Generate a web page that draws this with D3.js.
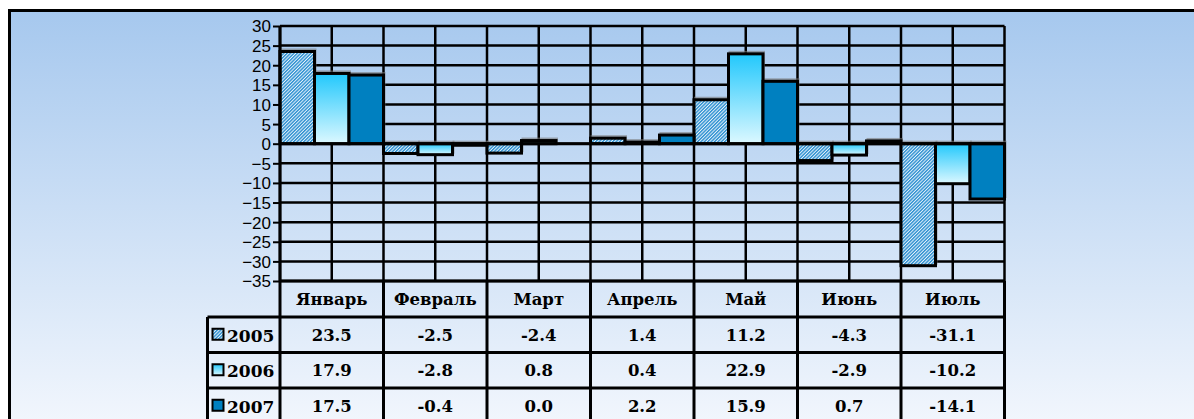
<!DOCTYPE html>
<html>
<head>
<meta charset="utf-8">
<script src="https://cdn.jsdelivr.net/npm/d3@7"></script>
<style>
  body { margin: 0; background: #fff; }
  svg { display: block; }
</style>
</head>
<body>
<svg width="1194" height="419"></svg>
<script>
// data
const months = ["Январь", "Февраль", "Март", "Апрель", "Май", "Июнь", "Июль"];
const years = ["2005", "2006", "2007"];
const v2005 = [23.5, -2.5, -2.4, 1.4, 11.2, -4.3, -31.1];
const v2006 = [17.9, -2.8, 0.8, 0.4, 22.9, -2.9, -10.2];
const v2007 = [17.5, -0.4, 0.0, 2.2, 15.9, 0.7, -14.1];
const yTicks = [30, 25, 20, 15, 10, 5, 0, -5, -10, -15, -20, -25, -30, -35];

const series = [v2005, v2006, v2007];

const svg = d3.select("svg");
const defs = svg.append("defs");

// background gradient
let bg = defs.append("linearGradient").attr("id", "bg")
  .attr("x1", 0).attr("y1", 0).attr("x2", 0).attr("y2", 1);
bg.append("stop").attr("offset", "0%").attr("stop-color", "#a6c8ee");
bg.append("stop").attr("offset", "100%").attr("stop-color", "#f3f7fd");

// 2006 gradient
let g6 = defs.append("linearGradient").attr("id", "g2006")
  .attr("x1", 0).attr("y1", 0).attr("x2", 0).attr("y2", 1);
g6.append("stop").attr("offset", "0%").attr("stop-color", "#22c8fc");
g6.append("stop").attr("offset", "100%").attr("stop-color", "#dcf8ff");

// 2005 hatch (fine)
let hatch = defs.append("pattern").attr("id", "hatch")
  .attr("width", 2.4).attr("height", 2.4)
  .attr("patternUnits", "userSpaceOnUse")
  .attr("patternTransform", "rotate(45)");
hatch.append("rect").attr("width", 2.4).attr("height", 2.4).attr("fill", "#e6f2fb");
hatch.append("rect").attr("width", 1.4).attr("height", 2.4).attr("fill", "#2b8fd0");

const fills = ["url(#hatch)", "url(#g2006)", "#0080c0"];

// frame
svg.append("rect").attr("x", 9.5).attr("y", 10.5)
  .attr("width", 1200).attr("height", 420)
  .attr("fill", "url(#bg)").attr("stroke", "#000").attr("stroke-width", 3);

const pLeft = 280, pRight = 1004.5, pTop = 26, pBottom = 281;

const x = d3.scaleBand().domain(months).range([pLeft, pRight]).padding(0);
const xs = d3.scaleBand().domain(years).range([0, x.bandwidth()]).padding(0);
const y = d3.scaleLinear().domain([-35, 30]).range([pBottom, pTop]);

const grid = svg.append("g");

// horizontal grid
grid.selectAll("line.h").data(yTicks).enter().append("line")
  .attr("x1", pLeft).attr("x2", pRight)
  .attr("y1", d => y(d)).attr("y2", d => y(d))
  .attr("stroke", "#000").attr("stroke-width", 2.5);

// vertical grid: category boundaries and midpoints
const vlines = [];
months.forEach(m => { vlines.push(x(m)); vlines.push(x(m) + x.bandwidth() / 2); });
vlines.push(pRight);
grid.selectAll("line.v").data(vlines).enter().append("line")
  .attr("x1", d => d).attr("x2", d => d)
  .attr("y1", pTop).attr("y2", pBottom)
  .attr("stroke", "#000").attr("stroke-width", 2.5);

// bars
const bars = svg.append("g");
const barData = [];
series.forEach((s, si) => s.forEach((v, mi) => barData.push({ m: months[mi], yr: years[si], si, v })));

bars.selectAll("rect.shadow").data(barData).enter().append("rect")
  .attr("x", d => x(d.m) + xs(d.yr) + 1)
  .attr("y", d => Math.min(y(d.v), y(0)) - 2)
  .attr("width", xs.bandwidth())
  .attr("height", d => Math.abs(y(d.v) - y(0)))
  .attr("fill", "none").attr("stroke", "#777").attr("stroke-width", 2).attr("opacity", 0.6);

bars.selectAll("rect.bar").data(barData).enter().append("rect")
  .attr("x", d => x(d.m) + xs(d.yr))
  .attr("y", d => Math.min(y(d.v), y(0)))
  .attr("width", xs.bandwidth())
  .attr("height", d => Math.abs(y(d.v) - y(0)))
  .attr("fill", d => fills[d.si])
  .attr("stroke", "#000").attr("stroke-width", 3);

// zero line on top
svg.append("line").attr("x1", pLeft).attr("x2", pRight)
  .attr("y1", y(0)).attr("y2", y(0)).attr("stroke", "#000").attr("stroke-width", 3);

// y axis
const yAxis = d3.axisLeft(y).tickValues(yTicks).tickSize(7).tickPadding(2);
const ya = svg.append("g").attr("transform", `translate(${pLeft},0)`).call(yAxis);
ya.select(".domain").attr("stroke", "#000").attr("stroke-width", 3).attr("d", `M0,${pTop}V${pBottom}`);
ya.selectAll(".tick line").attr("stroke", "#000").attr("stroke-width", 2);
ya.selectAll(".tick text").attr("font-family", "Liberation Sans, Arial, sans-serif")
  .attr("font-size", 17).attr("fill", "#000").attr("dy", "0.35em");

// data table
const legLeft = 207.5;
const rowH = 35.5;
const headTop = pBottom, headBot = 317;
const rowY = years.map((_, i) => headBot + i * rowH);
const tbl = svg.append("g");
const serif = "DejaVu Serif, Liberation Serif, serif";
const fs = 16.5;

// horizontal lines
tbl.append("line").attr("x1", pLeft).attr("x2", pRight).attr("y1", headTop).attr("y2", headTop)
  .attr("stroke", "#000").attr("stroke-width", 3);
tbl.selectAll("line.r").data(rowY).enter().append("line")
  .attr("x1", legLeft).attr("x2", pRight).attr("y1", d => d).attr("y2", d => d)
  .attr("stroke", "#000").attr("stroke-width", 3);
// vertical lines
const cols = months.map(m => x(m)).concat([pRight]);
tbl.selectAll("line.c").data(cols).enter().append("line")
  .attr("x1", d => d).attr("x2", d => d).attr("y1", headTop).attr("y2", 430)
  .attr("stroke", "#000").attr("stroke-width", 3);
tbl.append("line").attr("x1", legLeft).attr("x2", legLeft).attr("y1", headBot).attr("y2", 430)
  .attr("stroke", "#000").attr("stroke-width", 3);

// header
tbl.selectAll("text.m").data(months).enter().append("text")
  .attr("x", d => x(d) + x.bandwidth() / 2).attr("y", (headTop + headBot) / 2)
  .attr("dy", "0.35em").attr("text-anchor", "middle")
  .attr("font-family", serif).attr("font-weight", "bold").attr("font-size", fs)
  .text(d => d);

// rows
years.forEach((yr, si) => {
  const cy = rowY[si] + rowH / 2;
  tbl.append("rect").attr("x", 212.5).attr("y", cy - 6).attr("width", 11).attr("height", 11)
    .attr("fill", fills[si]).attr("stroke", "#000").attr("stroke-width", 2);
  tbl.append("text").attr("x", 227).attr("y", cy + 1).attr("dy", "0.35em")
    .attr("font-family", serif).attr("font-weight", "bold").attr("font-size", 17)
    .text(yr);
  tbl.selectAll("text.v" + si).data(series[si]).enter().append("text")
    .attr("x", (d, i) => x(months[i]) + x.bandwidth() / 2).attr("y", cy)
    .attr("dy", "0.35em").attr("text-anchor", "middle")
    .attr("font-family", serif).attr("font-weight", "bold").attr("font-size", fs)
    .text(d => d.toFixed(1));
});
</script>
</body>
</html>
